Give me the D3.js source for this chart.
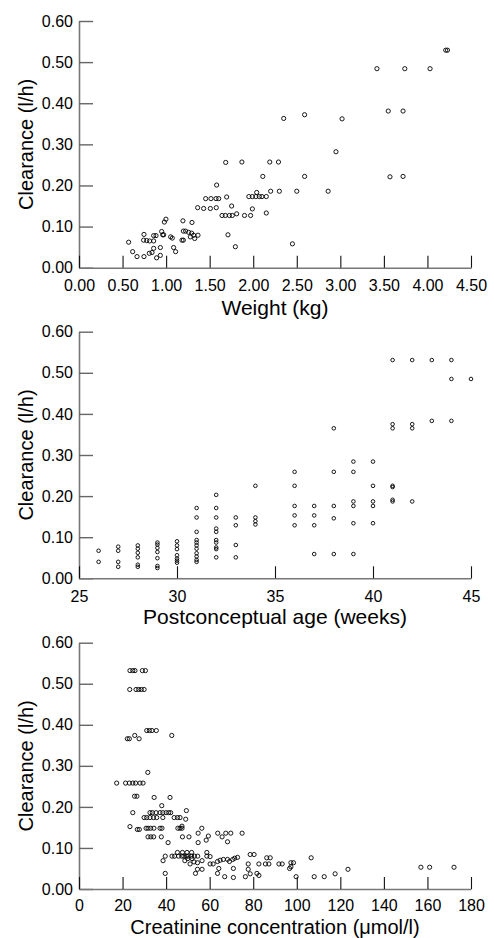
<!DOCTYPE html>
<html>
<head>
<meta charset="utf-8">
<script src="https://cdn.jsdelivr.net/npm/d3@7"></script>
<style>
  body { margin: 0; background: #fff; }
  svg { display: block; font-family: "Liberation Sans", Arial, sans-serif; }
</style>
</head>
<body>
<script>
// panel 1: clearance vs weight
const weightKg = [
  0.57, 0.616, 0.666, 0.746, 0.742, 0.777, 0.811, 0.857, 0.746, 0.807, 0.838, 0.857, 0.934,
  0.891, 0.934, 0.857, 0.884, 0.961, 0.972, 0.949, 0.98, 0.998, 1.052, 1.071, 1.086, 1.109,
  1.182, 1.198, 1.198, 1.224, 1.259, 1.293, 1.316, 1.366, 1.328, 1.278, 1.193, 1.297,
  1.362, 1.431, 1.508, 1.576, 1.454, 1.515, 1.573, 1.604, 1.695, 1.58, 1.684, 1.752,
  1.642, 1.68, 1.726, 1.76, 1.81, 1.71, 1.795,
  1.87, 1.90, 1.97, 1.99, 1.95, 1.99, 2.03, 2.07, 2.10, 2.15, 2.04, 2.15, 2.11, 2.19, 2.29,
  2.20, 2.30, 2.50, 2.86, 2.35, 2.59, 2.59, 2.45, 2.95, 3.02, 3.42, 3.55, 3.57, 3.72, 3.72,
  3.74, 4.03, 4.21, 4.23
];
const clearanceW = [
  0.062, 0.039, 0.027, 0.027, 0.067, 0.066, 0.065, 0.065, 0.081, 0.035, 0.037, 0.047, 0.049,
  0.024, 0.030, 0.078, 0.078, 0.080, 0.080, 0.088, 0.111, 0.118, 0.075, 0.072, 0.049, 0.039,
  0.067, 0.067, 0.089, 0.089, 0.086, 0.084, 0.079, 0.079, 0.071, 0.075, 0.114, 0.110,
  0.146, 0.144, 0.144, 0.146, 0.168, 0.168, 0.168, 0.168, 0.172, 0.201, 0.256, 0.150,
  0.127, 0.127, 0.127, 0.127, 0.131, 0.080, 0.051,
  0.257, 0.127, 0.127, 0.143, 0.173, 0.173, 0.173, 0.173, 0.173, 0.173, 0.183, 0.133, 0.222, 0.257, 0.257,
  0.186, 0.186, 0.186, 0.186, 0.363, 0.372, 0.222, 0.058, 0.282, 0.362, 0.484, 0.381, 0.221, 0.381, 0.222,
  0.484, 0.484, 0.529, 0.529
];

// panel 2: clearance vs postconceptual age
const ageWeeks = [
  26, 26,
  27, 27, 27, 27,
  28, 28, 28, 28, 28, 28,
  29, 29, 29, 29, 29, 29, 29,
  30, 30, 30, 30, 30, 30, 30,
  31, 31, 31, 31, 31, 31, 31, 31, 31, 31, 31,
  32, 32, 32, 32, 32, 32, 32, 32, 32, 32,
  33, 33, 33, 33,
  34, 34, 34, 34,
  36, 36, 36, 36, 36,
  37, 37, 37, 37,
  38, 38, 38, 38, 38,
  39, 39, 39, 39, 39, 39,
  40, 40, 40, 40, 40,
  41, 41, 41, 41, 41, 41, 41,
  42, 42, 42, 42,
  43, 43,
  44, 44, 44,
  45
];
const clearanceA = [
  0.067, 0.040,
  0.077, 0.067, 0.040, 0.028,
  0.080, 0.072, 0.062, 0.051, 0.033, 0.028,
  0.087, 0.082, 0.074, 0.064, 0.049, 0.030, 0.025,
  0.090, 0.080, 0.071, 0.056, 0.048, 0.043, 0.038,
  0.171, 0.148, 0.113, 0.093, 0.087, 0.080, 0.072, 0.061, 0.053, 0.045, 0.040,
  0.203, 0.171, 0.148, 0.121, 0.113, 0.093, 0.087, 0.075, 0.071, 0.051,
  0.148, 0.129, 0.081, 0.051,
  0.225, 0.148, 0.139, 0.131,
  0.259, 0.225, 0.176, 0.153, 0.129,
  0.176, 0.153, 0.129, 0.059,
  0.365, 0.259, 0.176, 0.146, 0.059,
  0.284, 0.259, 0.187, 0.176, 0.134, 0.059,
  0.284, 0.225, 0.187, 0.176, 0.134,
  0.531, 0.375, 0.365, 0.225, 0.222, 0.191, 0.187,
  0.531, 0.375, 0.365, 0.187,
  0.531, 0.383,
  0.531, 0.485, 0.383,
  0.485
];

// panel 3: clearance vs creatinine
const creatinine = [
  23.4, 24.7, 25.7, 29.1, 30.5,
  23.3, 26.2, 27.4, 28.6, 29.9,
  31.1, 32.3, 33.5, 35.5,
  42.6, 25.6, 22.2, 23.1, 27.6, 31.6,
  17.3, 21.4, 23.1, 24.7, 26.0, 28.0, 29.4,
  25.5, 26.6, 34.5, 41.8, 38.0, 49.3,
  24.7, 32.6, 33.7, 35.4, 37.2, 38.5, 40.0, 41.2, 42.1,
  29.9, 31.1, 32.6, 34.2, 35.7, 38.5, 43.7, 45.2, 46.4, 49.0,
  23.4, 26.8, 27.7,
  30.8, 31.7, 32.9, 34.4, 37.2, 38.1, 45.4, 46.4, 47.3, 56.4, 47.3,
  31.7, 33.0, 34.3, 37.8, 47.5, 50.5,
  54.7, 63.7, 67.4, 69.7, 74.9, 65.7, 59.4, 58.4, 40.9, 54.7, 68.2,
  45.2, 47.5, 49.6, 51.7, 58.7,
  39.6, 42.7, 43.9, 45.7, 47.2, 48.1, 49.3, 50.1, 51.7, 53.0, 54.5, 58.7, 60.2,
  38.6, 48.6, 56.5, 49.9, 51.9, 52.8, 54.4, 51.0, 60.2, 61.6,
  63.6, 64.8, 66.3, 68.2, 69.1, 70.6, 71.5, 72.8,
  64.2, 70.9, 63.6, 66.9, 70.9, 54.4, 56.5, 53.5, 39.6,
  78.6, 80.4, 77.7, 77.7, 76.4, 78.6, 81.7, 82.6, 82.6, 85.6, 87.2, 86.2, 87.8,
  91.8, 93.3, 96.7, 97.3, 97.3, 98.5, 99.7, 106.6, 108.0, 112.6, 117.6, 123.5,
  157.0, 161.0, 172.2
];
const clearanceC = [
  0.532, 0.532, 0.532, 0.532, 0.532,
  0.486, 0.486, 0.486, 0.486, 0.486,
  0.386, 0.386, 0.386, 0.386,
  0.374, 0.374, 0.366, 0.366, 0.366, 0.284,
  0.258, 0.258, 0.258, 0.258, 0.258, 0.258, 0.258,
  0.226, 0.226, 0.223, 0.223, 0.203, 0.191,
  0.186, 0.186, 0.186, 0.186, 0.186, 0.186, 0.186, 0.186, 0.186,
  0.174, 0.174, 0.174, 0.174, 0.174, 0.174, 0.174, 0.174, 0.174, 0.170,
  0.152, 0.145, 0.145,
  0.148, 0.148, 0.148, 0.148, 0.148, 0.148, 0.148, 0.148, 0.148, 0.148, 0.153,
  0.127, 0.127, 0.127, 0.127, 0.127, 0.127,
  0.136, 0.136, 0.136, 0.136, 0.136, 0.127, 0.129, 0.119, 0.113, 0.113, 0.115,
  0.089, 0.089, 0.089, 0.089, 0.089,
  0.080, 0.080, 0.080, 0.080, 0.080, 0.080, 0.080, 0.080, 0.080, 0.080, 0.080, 0.080, 0.079,
  0.069, 0.069, 0.069, 0.074, 0.074, 0.066, 0.064, 0.061, 0.061, 0.061,
  0.067, 0.070, 0.072, 0.072, 0.067, 0.072, 0.075, 0.077,
  0.050, 0.050, 0.038, 0.030, 0.028, 0.048, 0.048, 0.038, 0.038,
  0.084, 0.084, 0.061, 0.048, 0.030, 0.037, 0.038, 0.033, 0.061, 0.061, 0.061, 0.076, 0.076,
  0.061, 0.061, 0.050, 0.054, 0.064, 0.064, 0.030, 0.076, 0.030, 0.030, 0.037, 0.048,
  0.053, 0.053, 0.053
];

const yTickValues = [0, 0.1, 0.2, 0.3, 0.4, 0.5, 0.6];
const weightTicks = [0, 0.5, 1, 1.5, 2, 2.5, 3, 3.5, 4, 4.5];
const ageTicks = [25, 30, 35, 40, 45];
const creatTicks = [0, 20, 40, 60, 80, 100, 120, 140, 160, 180];

const width = 494, height = 938;
const plotLeft = 79, plotRight = 471;

const svg = d3.select("body").append("svg")
  .attr("width", width)
  .attr("height", height);

function drawPanel(cfg) {
  const x = d3.scaleLinear().domain(cfg.xDomain).range([plotLeft, plotRight]);
  const y = d3.scaleLinear().domain([0, 0.6]).range([cfg.bottom, cfg.top]);
  const g = svg.append("g");

  const yAxis = g.append("g")
    .attr("transform", `translate(${plotLeft},0)`)
    .call(d3.axisLeft(y).tickValues(yTickValues).tickFormat(d3.format(".2f"))
      .tickSize(-14).tickSizeOuter(0).tickPadding(6));
  yAxis.select(".domain").attr("stroke", "#777").attr("stroke-width", 1.6);
  yAxis.selectAll(".tick line").attr("stroke", "#666").attr("stroke-width", 1.4);
  yAxis.selectAll(".tick text").attr("font-size", 16).attr("fill", "#000")
    .attr("font-family", "Liberation Sans, Arial, sans-serif");

  const xAxis = g.append("g")
    .attr("transform", `translate(0,${cfg.bottom})`)
    .call(d3.axisBottom(x).tickValues(cfg.xTicks).tickFormat(cfg.xFormat)
      .tickSize(-12).tickSizeOuter(0).tickPadding(cfg.tickPad));
  xAxis.select(".domain").attr("stroke", "#777").attr("stroke-width", 1.6);
  xAxis.selectAll(".tick line").attr("stroke", "#111").attr("stroke-width", 1.1);
  xAxis.selectAll(".tick text").attr("font-size", 16).attr("fill", "#000")
    .attr("font-family", "Liberation Sans, Arial, sans-serif");

  g.append("text")
    .attr("x", (plotLeft + plotRight) / 2)
    .attr("y", cfg.bottom + cfg.titleGap)
    .attr("text-anchor", "middle")
    .attr("font-size", cfg.titleSize)
    .text(cfg.xTitle);

  g.append("text")
    .attr("transform", `translate(33,${(cfg.top + cfg.bottom) / 2}) rotate(-90)`)
    .attr("text-anchor", "middle")
    .attr("font-size", 20)
    .text("Clearance (l/h)");

  g.append("g").selectAll("circle")
    .data(d3.range(cfg.xs.length))
    .join("circle")
    .attr("cx", i => x(cfg.xs[i]))
    .attr("cy", i => y(cfg.ys[i]))
    .attr("r", cfg.r)
    .attr("fill", "none")
    .attr("stroke", "#000")
    .attr("stroke-width", 0.9);
}

drawPanel({
  top: 21, bottom: 267.7, xDomain: [0, 4.5], xTicks: weightTicks,
  xFormat: d3.format(".2f"), xTitle: "Weight (kg)", titleGap: 47, titleSize: 21, tickPad: 12,
  xs: weightKg, ys: clearanceW, r: 2.1
});
drawPanel({
  top: 331.7, bottom: 578.3, xDomain: [25, 45], xTicks: ageTicks,
  xFormat: d3.format("d"), xTitle: "Postconceptual age (weeks)", titleGap: 46, titleSize: 21, tickPad: 12,
  xs: ageWeeks, ys: clearanceA, r: 1.8
});
drawPanel({
  top: 642.7, bottom: 889, xDomain: [0, 180], xTicks: creatTicks,
  xFormat: d3.format("d"), xTitle: "Creatinine concentration (\u03bcmol/l)", titleGap: 44.5, titleSize: 20, tickPad: 11,
  xs: creatinine, ys: clearanceC, r: 2.1
});
</script>
</body>
</html>
